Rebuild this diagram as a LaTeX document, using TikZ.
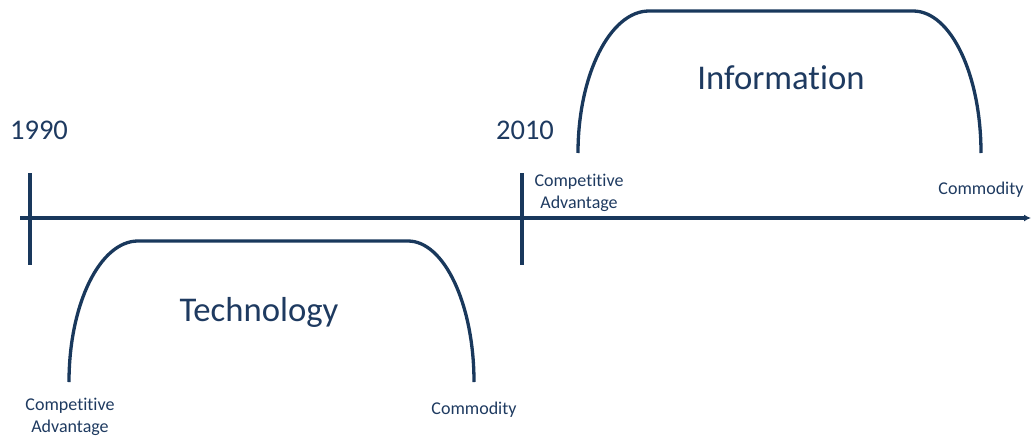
\documentclass[tikz,border=0pt]{standalone}
\usepackage{fontspec}
\setmainfont{Carlito}[Ligatures=NoCommon]
\usetikzlibrary{arrows.meta}
\definecolor{navy}{RGB}{25,56,92}
\definecolor{navytext}{RGB}{30,58,96}
\tikzset{
  axisline/.style={navy, line width=3.3pt},
  phase/.style={navy, line width=3.3pt},
  yearlabel/.style={text=navytext, font=\fontsize{28.5}{31}\selectfont, inner sep=0pt},
  phaselabel/.style={text=navytext, font=\fontsize{34.7}{38}\selectfont, inner sep=0pt},
  smalllabel/.style={text=navytext, font=\fontsize{18}{22.5}\selectfont, align=center, inner sep=0pt},
}
\begin{document}
\begin{tikzpicture}[x=1pt, y=-1pt]
\useasboundingbox (0,0) rectangle (1032,436);

% timeline axis
\coordinate (axisstart) at (20,218);
\coordinate (axisend) at (1031,218);
\draw[axisline, -{Latex[length=7pt,width=7pt]}] (axisstart) -- (axisend);

% year ticks
\coordinate (t1990top) at (30,173);
\coordinate (t1990bot) at (30,265);
\coordinate (t2010top) at (522,173);
\coordinate (t2010bot) at (522,265);
\draw[axisline] (t1990top) -- (t1990bot);
\draw[axisline] (t2010top) -- (t2010bot);

\node[yearlabel] (y1990) at (39,130) {1990};
\node[yearlabel] (y2010) at (525,130) {2010};

% Technology phase (below the axis)
\coordinate (techA) at (69,382);
\coordinate (techB) at (138,241);
\coordinate (techC) at (408,241);
\coordinate (techD) at (474,382);
\draw[phase] (techA) .. controls (69,304) and (100,241) .. (techB)
  -- (techC) .. controls (444,241) and (474,304) .. (techD);
\node[phaselabel] (tech) at (259,312) {Technology};
\node[smalllabel] (techstart) at (70,417) {Competitive\\Advantage};
\node[smalllabel] (techend) at (474,410) {Commodity};

% Information phase (above the axis)
\coordinate (infoA) at (578,153);
\coordinate (infoB) at (649,11);
\coordinate (infoC) at (913,11);
\coordinate (infoD) at (981,153);
\draw[phase] (infoA) .. controls (578,75) and (610,11) .. (infoB)
  -- (infoC) .. controls (951,11) and (981,75) .. (infoD);
\node[phaselabel] (info) at (781,78) {Information};
\node[smalllabel] (infostart) at (579,193) {Competitive\\Advantage};
\node[smalllabel] (infoend) at (981,190) {Commodity};
\end{tikzpicture}
\end{document}
